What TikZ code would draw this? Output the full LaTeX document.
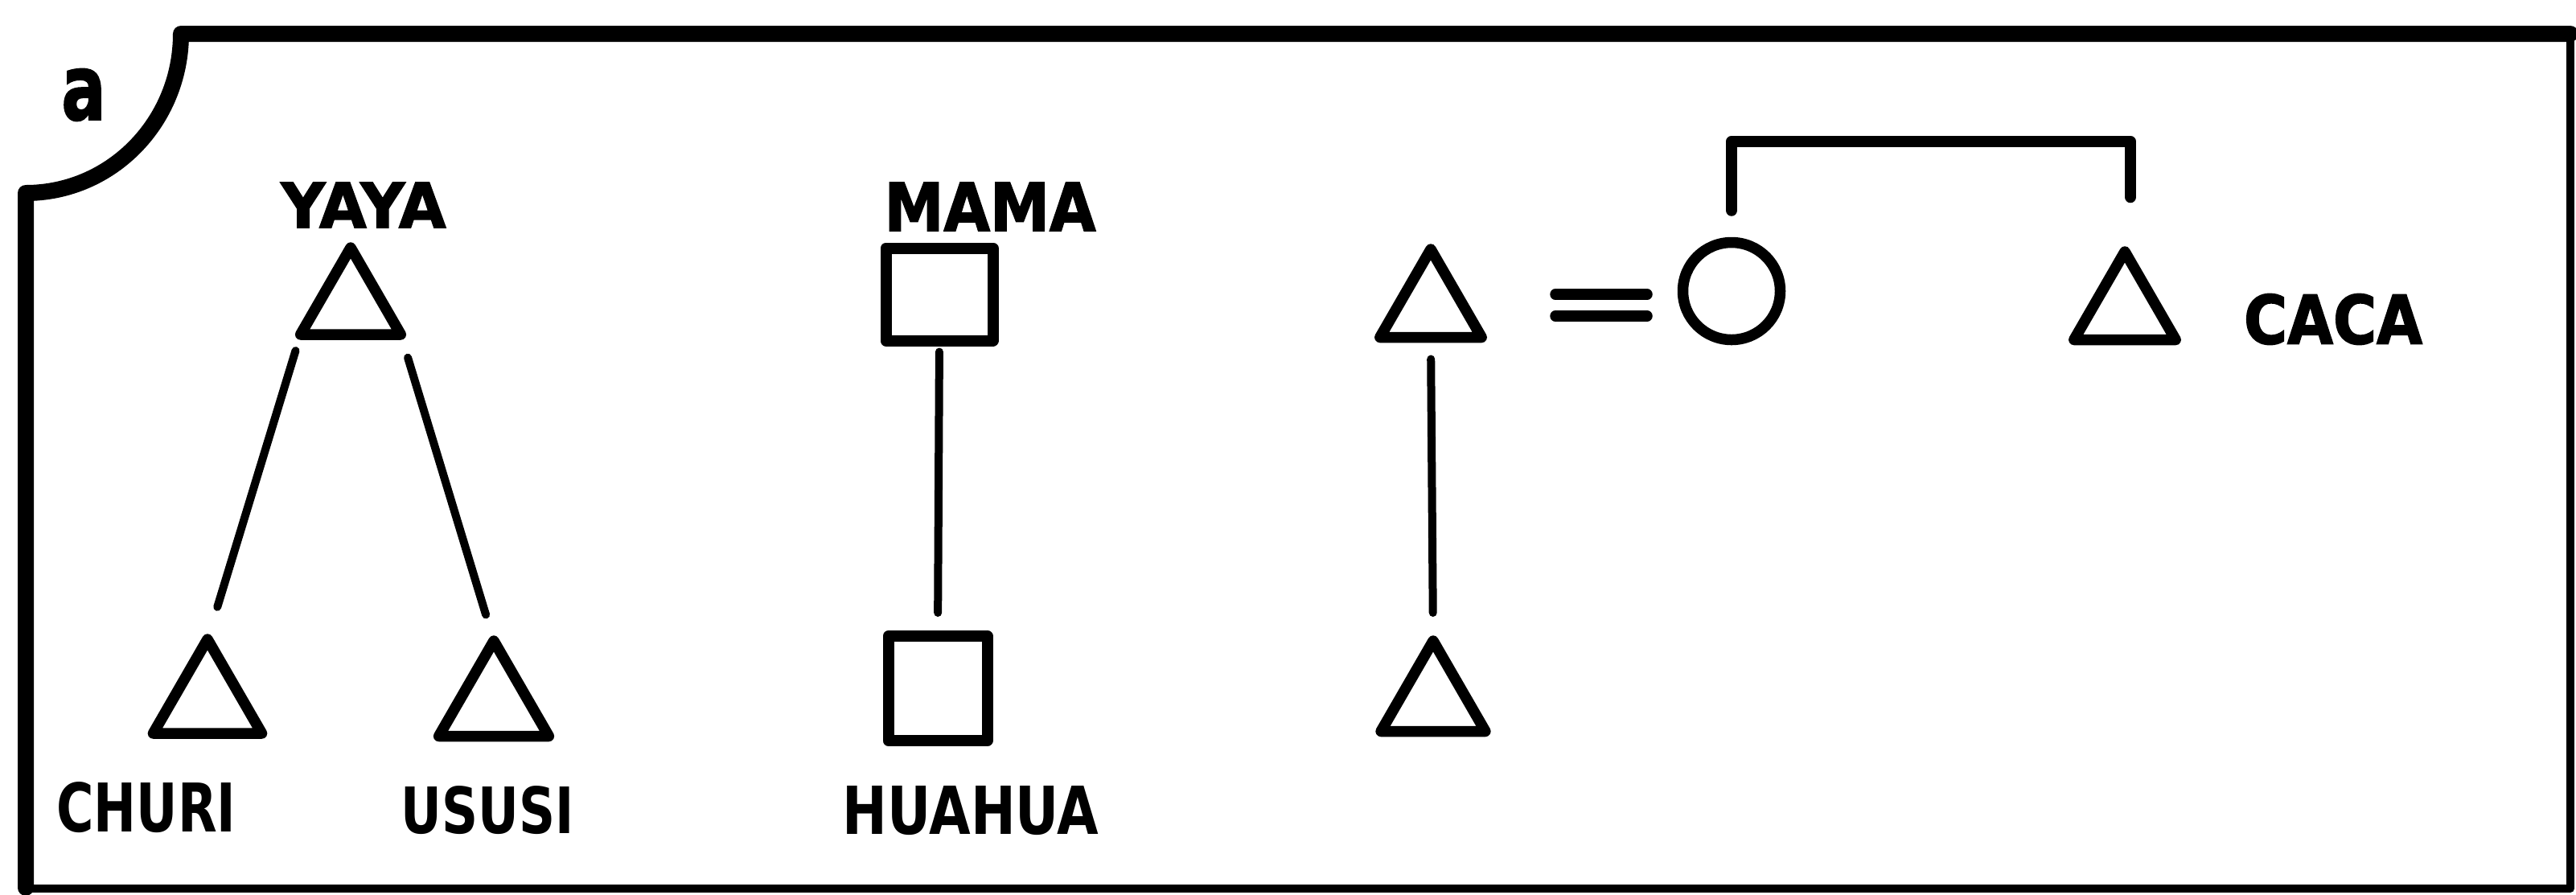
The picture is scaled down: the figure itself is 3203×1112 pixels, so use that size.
\documentclass[tikz,border=0pt]{standalone}
\usepackage{fontspec}
\usetikzlibrary{shapes.geometric,calc}
\newfontfamily\heavyfont[FakeBold=2]{DejaVu Sans Bold}
\newfontfamily\namefont{DejaVu Sans Bold}
% text stretched to a given width and height
\newcommand\fitted[3]{\resizebox{#1}{#2}{#3}}

\tikzset{
  male/.style={draw, regular polygon, regular polygon sides=3, minimum size=14.6mm,
    inner sep=0pt, outer sep=0pt, line width=1.35mm, line join=round},
  female/.style={draw, circle, minimum size=12.1mm, inner sep=0pt, outer sep=0pt, line width=1.35mm},
  sqbox/.style={draw, rectangle, inner sep=0pt, outer sep=0pt, line width=1.4mm, line join=round},
  descent/.style={line width=1.0mm, line cap=round},
  marriage/.style={line width=1.35mm, line cap=round},
  sibling/.style={line width=1.45mm, line cap=round, line join=round},
  label/.style={inner sep=0pt, outer sep=0pt},
  frameheavy/.style={line width=2.0mm, line cap=round, line join=round},
  framelight/.style={line width=1.0mm, line cap=round, line join=round},
}

\begin{document}
\begin{tikzpicture}[x=0.1mm, y=-0.1mm]
\useasboundingbox (0,0) rectangle (3203,1112);

% panel frame with the cut-out upper left corner
\draw[frameheavy] (32,1104) -- (32,240) .. controls (139,240) and (225,151) .. (225,42) -- (3196,42);
\draw[framelight] (3196,42) -- (3196,1105) -- (32,1105);

% panel letter
\node[label] (panel) at (104,118) {\heavyfont\fitted{5.5mm}{6.3mm}{a}};

% first group: a man and his two sons
\node[male, minimum size=14.4mm] (yaya) at (436,380) {};
\node[male, minimum size=15.6mm] (churi) at (258,873) {};
\node[male, minimum size=15.8mm] (ususi) at (614,876) {};
\draw[descent, shorten <=2.1mm, shorten >=4.2mm] (yaya.corner 2) -- (churi.corner 1);
\draw[descent, shorten <=3.0mm, shorten >=3.4mm] (yaya.corner 3) -- (ususi.corner 1);
\node[label] (lyaya) at (452,255) {\heavyfont\fitted{20.5mm}{5.6mm}{YAYA}};
\node[label] (lchuri) at (182,1004) {\namefont\fitted{22.3mm}{6.2mm}{CHURI}};
\node[label] (lususi) at (606,1008) {\namefont\fitted{21.5mm}{5.9mm}{USUSI}};

% second group: a woman and her daughter
\node[sqbox, minimum width=13.3mm, minimum height=11.5mm] (mama) at (1168,366) {};
\node[sqbox, minimum width=12.3mm, minimum height=13.0mm] (huahua) at (1166,856) {};
\draw[descent, shorten <=1.4mm, shorten >=2.9mm] (mama.south) -- (huahua.north);
\node[label] (lmama) at (1231,257) {\heavyfont\fitted{26.3mm}{6.0mm}{MAMA}};
\node[label] (lhuahua) at (1207,1008) {\namefont\fitted{31.9mm}{6.0mm}{HUAHUA}};

% third group: marriage, son, and the wife's brother
\node[male, minimum size=14.6mm] (ego) at (1779,383) {};
\node[male, minimum size=15.0mm] (son) at (1782,872) {};
\node[female] (wife) at (2153,362) {};
\node[male, minimum size=14.6mm] (caca) at (2642,386) {};
\draw[descent, shorten <=2.7mm, shorten >=3.5mm] (ego.south) -- (son.north);

\coordinate (eqtopL) at (1934,366);
\coordinate (eqtopR) at (2048,366);
\coordinate (eqbotL) at (1934,393);
\coordinate (eqbotR) at (2048,393);
\draw[marriage] (eqtopL) -- (eqtopR);
\draw[marriage] (eqbotL) -- (eqbotR);

\coordinate (bartop) at (0,176);
\coordinate (ldrop) at ([yshift=4.0mm]wife.north);
\coordinate (rdrop) at ([xshift=0.7mm,yshift=6.8mm]caca.north);
\draw[sibling] (ldrop) -- (ldrop |- bartop) -- (rdrop |- bartop) -- (rdrop);

\node[label] (lcaca) at (2901,397) {\heavyfont\fitted{22.2mm}{6.2mm}{CACA}};
\end{tikzpicture}
\end{document}
